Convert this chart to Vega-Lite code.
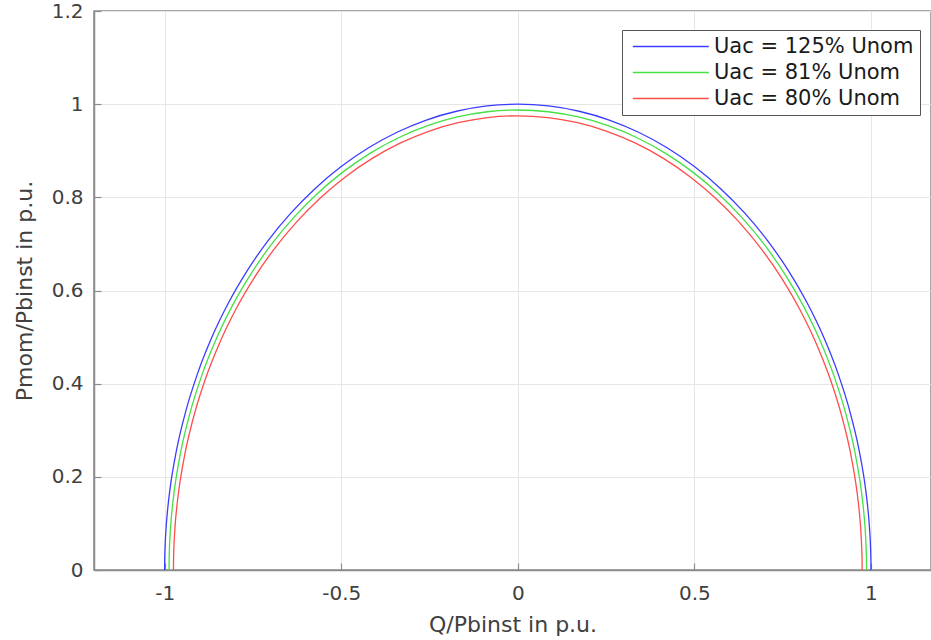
{
  "$schema": "https://vega.github.io/schema/vega-lite/v6.json",
  "width": 837,
  "height": 559,
  "autosize": {"type": "none"},
  "padding": {"left": 94, "top": 11, "right": 0, "bottom": 70},
  "background": "white",
  "config": {
    "font": "DejaVu Sans",
    "view": {"stroke": "#8c8c8c", "strokeWidth": 1.5},
    "axis": {
      "domainColor": "#8c8c8c",
      "domainWidth": 1.5,
      "gridColor": "#e6e6e6",
      "gridWidth": 1,
      "tickColor": "#8c8c8c",
      "tickWidth": 1.2,
      "labelFont": "DejaVu Sans",
      "titleFont": "DejaVu Sans",
      "labelFontSize": 20,
      "titleFontSize": 22,
      "labelColor": "#404040",
      "titleColor": "#404040",
      "titleFontWeight": "normal"
    }
  },
  "data": {
    "values": [
      {"s": "Uac = 125% Unom", "q": -1, "p": 0},
      {"s": "Uac = 125% Unom", "q": -0.99985, "p": 0.017452},
      {"s": "Uac = 125% Unom", "q": -0.99939, "p": 0.034899},
      {"s": "Uac = 125% Unom", "q": -0.99863, "p": 0.052336},
      {"s": "Uac = 125% Unom", "q": -0.99619, "p": 0.087156},
      {"s": "Uac = 125% Unom", "q": -0.99144, "p": 0.130526},
      {"s": "Uac = 125% Unom", "q": -0.98481, "p": 0.173648},
      {"s": "Uac = 125% Unom", "q": -0.96593, "p": 0.258819},
      {"s": "Uac = 125% Unom", "q": -0.93969, "p": 0.34202},
      {"s": "Uac = 125% Unom", "q": -0.90631, "p": 0.422618},
      {"s": "Uac = 125% Unom", "q": -0.86603, "p": 0.5},
      {"s": "Uac = 125% Unom", "q": -0.81915, "p": 0.573576},
      {"s": "Uac = 125% Unom", "q": -0.76604, "p": 0.642788},
      {"s": "Uac = 125% Unom", "q": -0.70711, "p": 0.707107},
      {"s": "Uac = 125% Unom", "q": -0.64279, "p": 0.766044},
      {"s": "Uac = 125% Unom", "q": -0.57358, "p": 0.819152},
      {"s": "Uac = 125% Unom", "q": -0.5, "p": 0.866025},
      {"s": "Uac = 125% Unom", "q": -0.42262, "p": 0.906308},
      {"s": "Uac = 125% Unom", "q": -0.34202, "p": 0.939693},
      {"s": "Uac = 125% Unom", "q": -0.25882, "p": 0.965926},
      {"s": "Uac = 125% Unom", "q": -0.17365, "p": 0.984808},
      {"s": "Uac = 125% Unom", "q": -0.08716, "p": 0.996195},
      {"s": "Uac = 125% Unom", "q": 0, "p": 1},
      {"s": "Uac = 125% Unom", "q": 0.08716, "p": 0.996195},
      {"s": "Uac = 125% Unom", "q": 0.17365, "p": 0.984808},
      {"s": "Uac = 125% Unom", "q": 0.25882, "p": 0.965926},
      {"s": "Uac = 125% Unom", "q": 0.34202, "p": 0.939693},
      {"s": "Uac = 125% Unom", "q": 0.42262, "p": 0.906308},
      {"s": "Uac = 125% Unom", "q": 0.5, "p": 0.866025},
      {"s": "Uac = 125% Unom", "q": 0.57358, "p": 0.819152},
      {"s": "Uac = 125% Unom", "q": 0.64279, "p": 0.766044},
      {"s": "Uac = 125% Unom", "q": 0.70711, "p": 0.707107},
      {"s": "Uac = 125% Unom", "q": 0.76604, "p": 0.642788},
      {"s": "Uac = 125% Unom", "q": 0.81915, "p": 0.573576},
      {"s": "Uac = 125% Unom", "q": 0.86603, "p": 0.5},
      {"s": "Uac = 125% Unom", "q": 0.90631, "p": 0.422618},
      {"s": "Uac = 125% Unom", "q": 0.93969, "p": 0.34202},
      {"s": "Uac = 125% Unom", "q": 0.96593, "p": 0.258819},
      {"s": "Uac = 125% Unom", "q": 0.98481, "p": 0.173648},
      {"s": "Uac = 125% Unom", "q": 0.99144, "p": 0.130526},
      {"s": "Uac = 125% Unom", "q": 0.99619, "p": 0.087156},
      {"s": "Uac = 125% Unom", "q": 0.99863, "p": 0.052336},
      {"s": "Uac = 125% Unom", "q": 0.99939, "p": 0.034899},
      {"s": "Uac = 125% Unom", "q": 0.99985, "p": 0.017452},
      {"s": "Uac = 125% Unom", "q": 1, "p": 0},

      {"s": "Uac = 81% Unom", "q": -0.9875, "p": 0},
      {"s": "Uac = 81% Unom", "q": -0.98735, "p": 0.017234},
      {"s": "Uac = 81% Unom", "q": -0.9869, "p": 0.034463},
      {"s": "Uac = 81% Unom", "q": -0.98615, "p": 0.051682},
      {"s": "Uac = 81% Unom", "q": -0.98374, "p": 0.086067},
      {"s": "Uac = 81% Unom", "q": -0.97905, "p": 0.128894},
      {"s": "Uac = 81% Unom", "q": -0.9725, "p": 0.171477},
      {"s": "Uac = 81% Unom", "q": -0.95386, "p": 0.255584},
      {"s": "Uac = 81% Unom", "q": -0.92794, "p": 0.337745},
      {"s": "Uac = 81% Unom", "q": -0.89498, "p": 0.417335},
      {"s": "Uac = 81% Unom", "q": -0.8552, "p": 0.49375},
      {"s": "Uac = 81% Unom", "q": -0.80891, "p": 0.566406},
      {"s": "Uac = 81% Unom", "q": -0.75646, "p": 0.634753},
      {"s": "Uac = 81% Unom", "q": -0.69827, "p": 0.698268},
      {"s": "Uac = 81% Unom", "q": -0.63476, "p": 0.756468},
      {"s": "Uac = 81% Unom", "q": -0.56641, "p": 0.808913},
      {"s": "Uac = 81% Unom", "q": -0.49375, "p": 0.8552},
      {"s": "Uac = 81% Unom", "q": -0.41734, "p": 0.894979},
      {"s": "Uac = 81% Unom", "q": -0.33774, "p": 0.927947},
      {"s": "Uac = 81% Unom", "q": -0.25558, "p": 0.953852},
      {"s": "Uac = 81% Unom", "q": -0.17148, "p": 0.972498},
      {"s": "Uac = 81% Unom", "q": -0.08607, "p": 0.983743},
      {"s": "Uac = 81% Unom", "q": 0, "p": 0.9875},
      {"s": "Uac = 81% Unom", "q": 0.08607, "p": 0.983743},
      {"s": "Uac = 81% Unom", "q": 0.17148, "p": 0.972498},
      {"s": "Uac = 81% Unom", "q": 0.25558, "p": 0.953852},
      {"s": "Uac = 81% Unom", "q": 0.33774, "p": 0.927947},
      {"s": "Uac = 81% Unom", "q": 0.41734, "p": 0.894979},
      {"s": "Uac = 81% Unom", "q": 0.49375, "p": 0.8552},
      {"s": "Uac = 81% Unom", "q": 0.56641, "p": 0.808913},
      {"s": "Uac = 81% Unom", "q": 0.63476, "p": 0.756468},
      {"s": "Uac = 81% Unom", "q": 0.69827, "p": 0.698268},
      {"s": "Uac = 81% Unom", "q": 0.75646, "p": 0.634753},
      {"s": "Uac = 81% Unom", "q": 0.80891, "p": 0.566406},
      {"s": "Uac = 81% Unom", "q": 0.8552, "p": 0.49375},
      {"s": "Uac = 81% Unom", "q": 0.89498, "p": 0.417335},
      {"s": "Uac = 81% Unom", "q": 0.92794, "p": 0.337745},
      {"s": "Uac = 81% Unom", "q": 0.95386, "p": 0.255584},
      {"s": "Uac = 81% Unom", "q": 0.9725, "p": 0.171477},
      {"s": "Uac = 81% Unom", "q": 0.97905, "p": 0.128894},
      {"s": "Uac = 81% Unom", "q": 0.98374, "p": 0.086067},
      {"s": "Uac = 81% Unom", "q": 0.98615, "p": 0.051682},
      {"s": "Uac = 81% Unom", "q": 0.9869, "p": 0.034463},
      {"s": "Uac = 81% Unom", "q": 0.98735, "p": 0.017234},
      {"s": "Uac = 81% Unom", "q": 0.9875, "p": 0},

      {"s": "Uac = 80% Unom", "q": -0.975, "p": 0},
      {"s": "Uac = 80% Unom", "q": -0.97485, "p": 0.017016},
      {"s": "Uac = 80% Unom", "q": -0.97441, "p": 0.034027},
      {"s": "Uac = 80% Unom", "q": -0.97366, "p": 0.051028},
      {"s": "Uac = 80% Unom", "q": -0.97129, "p": 0.084977},
      {"s": "Uac = 80% Unom", "q": -0.96665, "p": 0.127263},
      {"s": "Uac = 80% Unom", "q": -0.96019, "p": 0.169307},
      {"s": "Uac = 80% Unom", "q": -0.94178, "p": 0.252349},
      {"s": "Uac = 80% Unom", "q": -0.9162, "p": 0.33347},
      {"s": "Uac = 80% Unom", "q": -0.88365, "p": 0.412053},
      {"s": "Uac = 80% Unom", "q": -0.84438, "p": 0.4875},
      {"s": "Uac = 80% Unom", "q": -0.79867, "p": 0.559237},
      {"s": "Uac = 80% Unom", "q": -0.74689, "p": 0.626718},
      {"s": "Uac = 80% Unom", "q": -0.68943, "p": 0.689429},
      {"s": "Uac = 80% Unom", "q": -0.62672, "p": 0.746893},
      {"s": "Uac = 80% Unom", "q": -0.55924, "p": 0.798673},
      {"s": "Uac = 80% Unom", "q": -0.4875, "p": 0.844374},
      {"s": "Uac = 80% Unom", "q": -0.41205, "p": 0.88365},
      {"s": "Uac = 80% Unom", "q": -0.33347, "p": 0.916201},
      {"s": "Uac = 80% Unom", "q": -0.25235, "p": 0.941778},
      {"s": "Uac = 80% Unom", "q": -0.16931, "p": 0.960188},
      {"s": "Uac = 80% Unom", "q": -0.08498, "p": 0.97129},
      {"s": "Uac = 80% Unom", "q": 0, "p": 0.975},
      {"s": "Uac = 80% Unom", "q": 0.08498, "p": 0.97129},
      {"s": "Uac = 80% Unom", "q": 0.16931, "p": 0.960188},
      {"s": "Uac = 80% Unom", "q": 0.25235, "p": 0.941778},
      {"s": "Uac = 80% Unom", "q": 0.33347, "p": 0.916201},
      {"s": "Uac = 80% Unom", "q": 0.41205, "p": 0.88365},
      {"s": "Uac = 80% Unom", "q": 0.4875, "p": 0.844374},
      {"s": "Uac = 80% Unom", "q": 0.55924, "p": 0.798673},
      {"s": "Uac = 80% Unom", "q": 0.62672, "p": 0.746893},
      {"s": "Uac = 80% Unom", "q": 0.68943, "p": 0.689429},
      {"s": "Uac = 80% Unom", "q": 0.74689, "p": 0.626718},
      {"s": "Uac = 80% Unom", "q": 0.79867, "p": 0.559237},
      {"s": "Uac = 80% Unom", "q": 0.84438, "p": 0.4875},
      {"s": "Uac = 80% Unom", "q": 0.88365, "p": 0.412053},
      {"s": "Uac = 80% Unom", "q": 0.9162, "p": 0.33347},
      {"s": "Uac = 80% Unom", "q": 0.94178, "p": 0.252349},
      {"s": "Uac = 80% Unom", "q": 0.96019, "p": 0.169307},
      {"s": "Uac = 80% Unom", "q": 0.96665, "p": 0.127263},
      {"s": "Uac = 80% Unom", "q": 0.97129, "p": 0.084977},
      {"s": "Uac = 80% Unom", "q": 0.97366, "p": 0.051028},
      {"s": "Uac = 80% Unom", "q": 0.97441, "p": 0.034027},
      {"s": "Uac = 80% Unom", "q": 0.97485, "p": 0.017016},
      {"s": "Uac = 80% Unom", "q": 0.975, "p": 0}
    ]
  },
  "mark": {"type": "line", "strokeWidth": 1.3, "clip": true, "interpolate": "monotone"},
  "encoding": {
    "x": {
      "field": "q",
      "type": "quantitative",
      "scale": {"domain": [-1.2, 1.17], "nice": false, "zero": false},
      "axis": {
        "title": "Q/Pbinst in p.u.",
        "values": [-1, -0.5, 0, 0.5, 1],
        "labelExpr": "'' + datum.value",
        "tickSize": -7,
        "labelPadding": 20,
        "titlePadding": 11
      }
    },
    "y": {
      "field": "p",
      "type": "quantitative",
      "scale": {"domain": [0, 1.2], "nice": false},
      "axis": {
        "title": "Pmom/Pbinst in p.u.",
        "values": [0, 0.2, 0.4, 0.6, 0.8, 1, 1.2],
        "labelExpr": "'' + datum.value",
        "tickSize": -7,
        "labelPadding": 18,
        "titlePadding": 15
      }
    },
    "color": {
      "field": "s",
      "type": "nominal",
      "scale": {
        "domain": ["Uac = 125% Unom", "Uac = 81% Unom", "Uac = 80% Unom"],
        "range": ["#3c3cff", "#44e044", "#ff4c4c"]
      },
      "legend": {
        "title": null,
        "orient": "none",
        "legendX": 528,
        "legendY": 19,
        "symbolType": "M-0.6,0H7.4",
        "symbolSize": 361,
        "symbolStrokeWidth": 1.3,
        "labelFontSize": 21,
        "labelLimit": 400,
        "labelFont": "DejaVu Sans",
        "labelColor": "#1a1a1a",
        "fillColor": "white",
        "strokeColor": "#555555",
        "padding": 6,
        "rowPadding": 4,
        "labelOffset": 65
      }
    }
  }
}
